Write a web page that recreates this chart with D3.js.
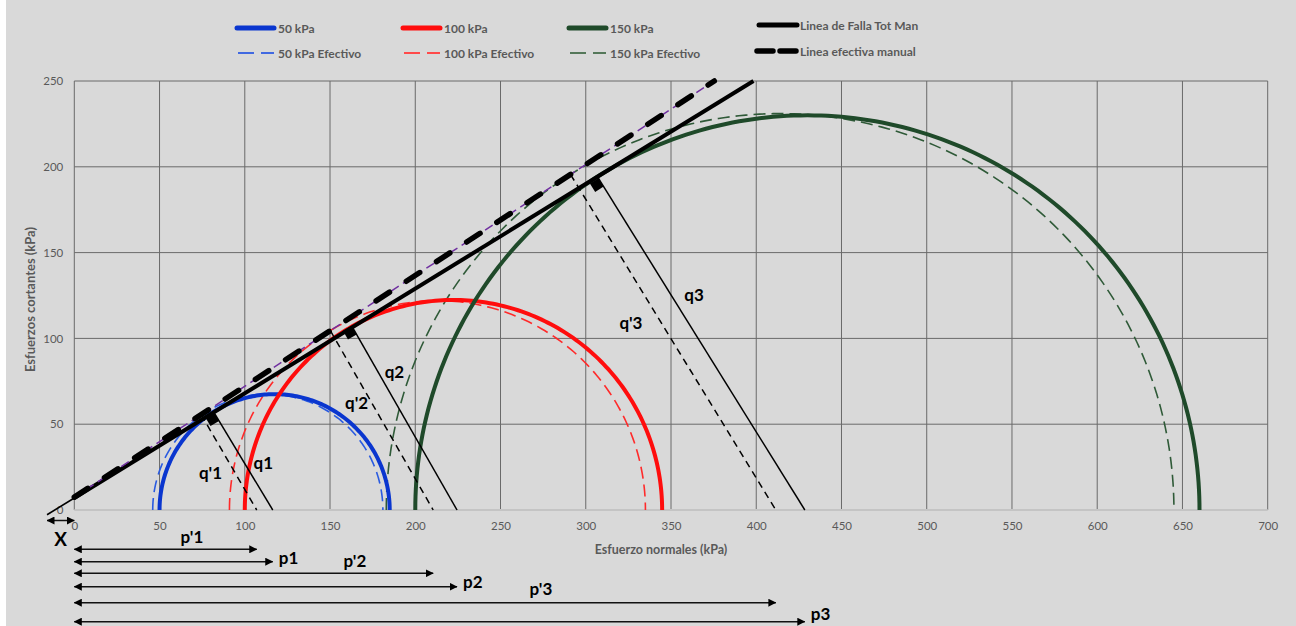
<!DOCTYPE html>
<html>
<head>
<meta charset="utf-8">
<script src="https://cdn.jsdelivr.net/npm/d3@7"></script>
<style>
  html, body { margin: 0; padding: 0; background: #d9d9d9; }
  svg { display: block; }
  text { font-family: Lato, "Open Sans", sans-serif; }
</style>
</head>
<body>
<svg id="chart" width="1296" height="626"></svg>
<script>
// ---- Data -------------------------------------------------------------
const xTickValues = [0, 50, 100, 150, 200, 250, 300, 350, 400, 450, 500, 550, 600, 650, 700];
const yTickValues = [0, 50, 100, 150, 200, 250];

const seriesNames   = ["50 kPa", "100 kPa", "150 kPa"];
const effectiveNames = ["50 kPa Efectivo", "100 kPa Efectivo", "150 kPa Efectivo"];

// Mohr circles, total stresses (centre p, radius q)
const totalCenters = [117.5, 222.4, 430];
const totalRadii   = [67.5, 122.4, 230];
// Mohr circles, effective stresses
const effCenters = [113.5, 213, 414];
const effRadii   = [67.5, 122, 231];

// Failure envelopes: tau = c + m * sigma
const envelopeNames      = ["Linea de Falla Tot Man", "Linea efectiva manual"];
const envelopeIntercepts = [7, 7.5];
const envelopeSlopes     = [0.61, 0.646];
const envelopeStartX     = [-16, 0];

// p and p' distances from the origin
const pTotal = [116.4, 224.5, 428.5];
const pEff   = [107, 210.5, 411.5];
// upper ends of the q and q' segments (on the envelopes)
const qTops    = [[81.9, 56.9], [162.7, 107.3], [307.4, 193.4]];
const qEffTops = [[74.4, 55.6], [150.2, 104.5], [291.1, 195.5]];

// annotation labels
const qLabels      = ["q1", "q2", "q3"];
const qLabelPos    = [[110.9, 27.4], [187.8, 80.7], [363.5, 125.3]];
const qEffLabels   = ["q'1", "q'2", "q'3"];
const qEffLabelPos = [[79.9, 21.6], [165.6, 62.4], [326.5, 109.3]];
const pLabels      = ["p1", "p2", "p3"];
const pEffLabels   = ["p'1", "p'2", "p'3"];
const pEffLabelX   = [69, 164.6, 273.7];
const xOffset      = -16;

// ---- Layout -------------------------------------------------------------
const svg = d3.select("#chart");
const W = 1296, H = 626;
const x = d3.scaleLinear().domain([0, 700]).range([74.3, 1267.7]);
const y = d3.scaleLinear().domain([0, 250]).range([510, 81]);

const colors    = ["#0a36cf", "#ff0d0d", "#1f4a2a"];
const effColors = ["#2a5be0", "#ff2a2a", "#2f5a38"];
const legendEffColors = ["#4169e1", "#ff4a4a", "#55785a"];

svg.append("rect").attr("width", W).attr("height", H).attr("fill", "#d9d9d9");
svg.append("rect").attr("width", 6).attr("height", H).attr("fill", "#ffffff");

// arrow heads
const defs = svg.append("defs");
defs.append("marker")
  .attr("id", "head")
  .attr("viewBox", "0 0 8 8")
  .attr("refX", 7.5).attr("refY", 4)
  .attr("markerWidth", 8).attr("markerHeight", 8)
  .attr("markerUnits", "userSpaceOnUse")
  .attr("orient", "auto-start-reverse")
  .append("path").attr("d", "M0,0 L8,4 L0,8 Z").attr("fill", "#000");

// ---- Grid ---------------------------------------------------------------
const grid = svg.append("g");
grid.selectAll("line.v").data(xTickValues).join("line")
  .attr("x1", d => x(d)).attr("x2", d => x(d))
  .attr("y1", y(0)).attr("y2", y(250))
  .attr("stroke", "#6a6a6a").attr("stroke-width", 1);
grid.selectAll("line.h").data(yTickValues.filter(d => d > 0)).join("line")
  .attr("x1", x(0)).attr("x2", x(700))
  .attr("y1", d => y(d)).attr("y2", d => y(d))
  .attr("stroke", "#6a6a6a").attr("stroke-width", 1);
// x axis base line
svg.append("line")
  .attr("x1", x(0)).attr("x2", x(700)).attr("y1", y(0)).attr("y2", y(0))
  .attr("stroke", "#c4c4c4").attr("stroke-width", 2);

// ---- Axes ---------------------------------------------------------------
const xAxis = d3.axisBottom(x).tickValues(xTickValues).tickSize(0).tickPadding(12);
const gx = svg.append("g").attr("transform", `translate(0,${y(0)})`).call(xAxis);
const yAxis = d3.axisLeft(y).tickValues(yTickValues).tickSize(0).tickPadding(11);
const gy = svg.append("g").attr("transform", `translate(${x(0)},0)`).call(yAxis);
[gx, gy].forEach(g => {
  g.select(".domain").remove();
  g.selectAll("text").attr("fill", "#595959").attr("font-size", 11.5)
    .attr("font-family", "Lato, sans-serif");
});

svg.append("text")
  .attr("x", x(350) - 10).attr("y", 554)
  .attr("text-anchor", "middle")
  .attr("font-size", 12.5).attr("font-weight", "bold").attr("fill", "#595959")
  .text("Esfuerzo normales (kPa)");
svg.append("text")
  .attr("transform", `translate(35,${(y(0) + y(250)) / 2 + 4}) rotate(-90)`)
  .attr("text-anchor", "middle")
  .attr("font-size", 13).attr("font-weight", "bold").attr("fill", "#595959")
  .text("Esfuerzos cortantes (kPa)");

// ---- Mohr circles -------------------------------------------------------
const angles = d3.range(0, 180.5, 1).map(a => a * Math.PI / 180);
const semi = (c, r) => angles.map(t => [c - r * Math.cos(t), r * Math.sin(t)]);
const line = d3.line().x(d => x(d[0])).y(d => y(d[1]));

const circles = svg.append("g").attr("fill", "none");
circles.selectAll("path.eff").data(effCenters).join("path")
  .attr("d", (c, i) => line(semi(c, effRadii[i])))
  .attr("stroke", (c, i) => effColors[i])
  .attr("stroke-width", 1.6)
  .attr("stroke-dasharray", "12,6");
circles.selectAll("path.tot").data(totalCenters).join("path")
  .attr("d", (c, i) => line(semi(c, totalRadii[i])))
  .attr("stroke", (c, i) => colors[i])
  .attr("stroke-width", 4);

// ---- Failure envelopes ------------------------------------------------
const envEndX = i => (250 - envelopeIntercepts[i]) / envelopeSlopes[i];
const envPoint = (i, s) => [s, envelopeIntercepts[i] + envelopeSlopes[i] * s];

// total stress envelope: thin part left of the axis, thick part inside
svg.append("path")
  .attr("d", line([envPoint(0, envelopeStartX[0]), envPoint(0, 0)]))
  .attr("stroke", "#000").attr("stroke-width", 1.6).attr("fill", "none");
svg.append("path")
  .attr("d", line([envPoint(0, 0), envPoint(0, envEndX(0))]))
  .attr("stroke", "#000").attr("stroke-width", 4).attr("fill", "none");

// effective envelope: purple guide with heavy dashes over it
svg.append("path")
  .attr("d", line([envPoint(1, envelopeStartX[1]), envPoint(1, envEndX(1))]))
  .attr("stroke", "#7030a0").attr("stroke-width", 1.5)
  .attr("stroke-dasharray", "9,5").attr("fill", "none");
svg.append("path")
  .attr("d", line([envPoint(1, envelopeStartX[1]), envPoint(1, envEndX(1))]))
  .attr("stroke", "#000").attr("stroke-width", 5.5)
  .attr("stroke-linecap", "round")
  .attr("stroke-dasharray", "16,20").attr("fill", "none");

// ---- q and q' segments ---------------------------------------------------
const ann = svg.append("g");
ann.selectAll("path.qe").data(qEffTops).join("path")
  .attr("d", (d, i) => line([d, [pEff[i], 0]]))
  .attr("stroke", "#000").attr("stroke-width", 1.5)
  .attr("stroke-dasharray", "7,5").attr("fill", "none");
ann.selectAll("path.q").data(qTops).join("path")
  .attr("d", (d, i) => line([d, [pTotal[i], 0]]))
  .attr("stroke", "#000").attr("stroke-width", 1.5).attr("fill", "none");

// right-angle markers where q meets the envelope
ann.selectAll("path.sq").data(qTops).join("path")
  .attr("d", (d, i) => {
    const P = [x(d[0]), y(d[1])];
    const B = [x(pTotal[i]), y(0)];
    let v = [B[0] - P[0], B[1] - P[1]];
    const lv = Math.hypot(v[0], v[1]); v = [v[0] / lv, v[1] / lv];
    const u = [-v[1], v[0]]; // perpendicular, pointing down-left along the envelope
    const s = 10;
    const pts = [P, [P[0] + s * u[0], P[1] + s * u[1]],
      [P[0] + s * u[0] + s * v[0], P[1] + s * u[1] + s * v[1]],
      [P[0] + s * v[0], P[1] + s * v[1]]];
    return "M" + pts.map(p => p.join(",")).join("L") + "Z";
  })
  .attr("fill", "#000");

const labelStyle = sel => sel.attr("font-size", 17).attr("font-weight", "bold")
  .attr("fill", "#000").attr("text-anchor", "middle").attr("dominant-baseline", "central");
ann.selectAll("text.q").data(qLabels).join("text")
  .attr("x", (d, i) => x(qLabelPos[i][0])).attr("y", (d, i) => y(qLabelPos[i][1]))
  .call(labelStyle).text(d => d);
ann.selectAll("text.qe").data(qEffLabels).join("text")
  .attr("x", (d, i) => x(qEffLabelPos[i][0])).attr("y", (d, i) => y(qEffLabelPos[i][1]))
  .call(labelStyle).text(d => d);

// ---- p and p' distance arrows below the axis ---------------------------
const arrowRows = [
  { v: pEff[0],   row: 549.3 }, { v: pTotal[0], row: 561.7 },
  { v: pEff[1],   row: 573.3 }, { v: pTotal[1], row: 586.7 },
  { v: pEff[2],   row: 602.7 }, { v: pTotal[2], row: 621.7 }
];
const arrows = svg.append("g");
arrows.selectAll("line").data(arrowRows).join("line")
  .attr("x1", x(0)).attr("x2", d => x(d.v))
  .attr("y1", d => d.row).attr("y2", d => d.row)
  .attr("stroke", "#111").attr("stroke-width", 1.5)
  .attr("marker-start", "url(#head)").attr("marker-end", "url(#head)");
// X offset arrow
arrows.append("line")
  .attr("x1", x(xOffset)).attr("x2", x(0)).attr("y1", 520.5).attr("y2", 520.5)
  .attr("stroke", "#111").attr("stroke-width", 1.5)
  .attr("marker-start", "url(#head)").attr("marker-end", "url(#head)");
arrows.append("text").attr("x", x(xOffset / 2)).attr("y", 538)
  .call(labelStyle).attr("font-size", 19).text("X");

arrows.selectAll("text.pe").data(pEffLabels).join("text")
  .attr("x", (d, i) => x(pEffLabelX[i]))
  .attr("y", (d, i) => [536, 560.5, 588][i])
  .call(labelStyle).text(d => d);
arrows.selectAll("text.p").data(pLabels).join("text")
  .attr("x", (d, i) => x(pTotal[i]) + 6)
  .attr("y", (d, i) => [557.5, 581, 613][i])
  .call(labelStyle).attr("text-anchor", "start").text(d => d);

// ---- Legend -----------------------------------------------------------
const legend = svg.append("g");
const legX = [237, 403, 569];
const legendText = sel => sel.attr("font-size", 12).attr("font-weight", "bold")
  .attr("fill", "#595959").attr("dominant-baseline", "central");
seriesNames.forEach((name, i) => {
  legend.append("line").attr("x1", legX[i]).attr("x2", legX[i] + 37)
    .attr("y1", 28).attr("y2", 28)
    .attr("stroke", colors[i]).attr("stroke-width", 5).attr("stroke-linecap", "round");
  legend.append("text").attr("x", legX[i] + 41).attr("y", 28).call(legendText).text(name);
  legend.append("line").attr("x1", legX[i] + 1).attr("x2", legX[i] + 37)
    .attr("y1", 53).attr("y2", 53)
    .attr("stroke", legendEffColors[i]).attr("stroke-width", 2.2)
    .attr("stroke-dasharray", "16,7");
  legend.append("text").attr("x", legX[i] + 41).attr("y", 53).call(legendText).text(effectiveNames[i]);
});
legend.append("line").attr("x1", 759).attr("x2", 797).attr("y1", 25).attr("y2", 25)
  .attr("stroke", "#000").attr("stroke-width", 5).attr("stroke-linecap", "round");
legend.append("text").attr("x", 800).attr("y", 25).call(legendText).text(envelopeNames[0]);
legend.append("line").attr("x1", 757).attr("x2", 796).attr("y1", 51).attr("y2", 51)
  .attr("stroke", "#000").attr("stroke-width", 5.5).attr("stroke-linecap", "round")
  .attr("stroke-dasharray", "16,7");
legend.append("text").attr("x", 800).attr("y", 51).call(legendText).text(envelopeNames[1]);
</script>
</body>
</html>
